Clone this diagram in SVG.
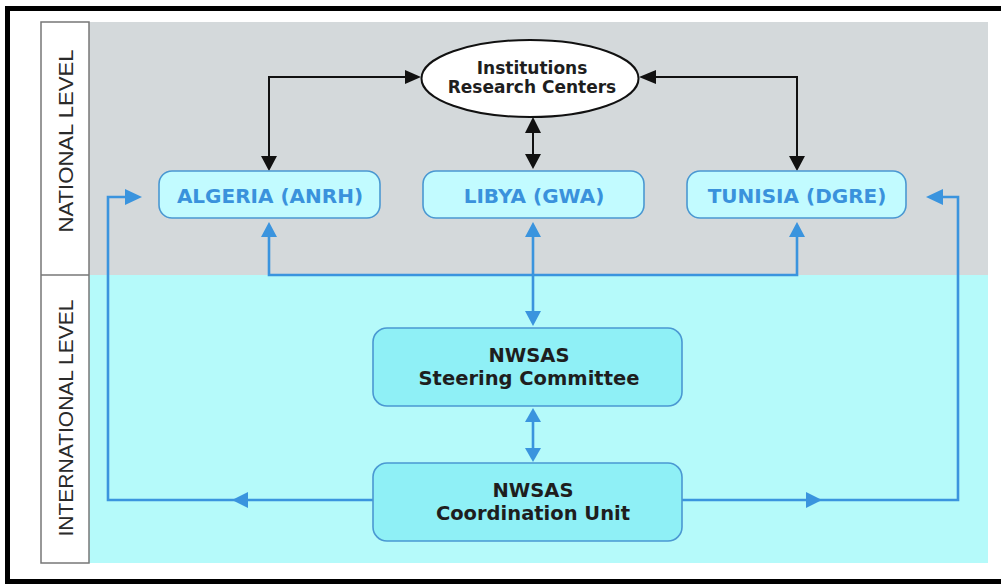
<svg xmlns="http://www.w3.org/2000/svg" width="1001" height="584" viewBox="0 0 1001 584">
  <style>
    .lbl { font-family: "Liberation Sans", Arial, sans-serif; font-size: 21px; fill: #2a2a2a; text-anchor: middle; }
    .nat { fill: #c2fbff; stroke: #4a98d2; stroke-width: 1.6; }
    .intl { fill: #8ff0f6; stroke: #4a98d2; stroke-width: 1.6; }
    .ctry { font-family: "DejaVu Sans", Verdana, sans-serif; font-weight: bold; font-size: 20px; fill: #3a92dc; text-anchor: middle; }
    .name { font-family: "DejaVu Sans", Verdana, sans-serif; font-weight: bold; fill: #1e1e1e; text-anchor: middle; }
    .blk { fill: none; stroke: #111; stroke-width: 2; }
    .blu { fill: none; stroke: #3a94de; stroke-width: 2.6; }
    .bh { fill: #111; }
    .uh { fill: #3a94de; }
  </style>

  <rect x="0" y="0" width="1001" height="584" fill="#ffffff"/>
  <!-- outer frame (right side runs off the canvas) -->
  <rect x="7.5" y="8.5" width="1000" height="573" fill="none" stroke="#000" stroke-width="5"/>

  <!-- level bands -->
  <rect x="89" y="22" width="899" height="253" fill="#d4d9db"/>
  <rect x="89" y="275" width="899" height="288" fill="#b5fafa"/>

  <!-- level label column -->
  <g id="level-labels">
    <rect x="41" y="22" width="48" height="541" fill="#ffffff" stroke="#777" stroke-width="1.5"/>
    <line x1="41" y1="275" x2="89" y2="275" stroke="#777" stroke-width="1.5"/>
    <text class="lbl" transform="translate(73 141) rotate(-90)" textLength="183" lengthAdjust="spacingAndGlyphs">NATIONAL LEVEL</text>
    <text class="lbl" transform="translate(73 418) rotate(-90)" textLength="237" lengthAdjust="spacingAndGlyphs">INTERNATIONAL LEVEL</text>
  </g>

  <!-- connectors -->
  <g id="connectors">
    <!-- black links to institutions -->
    <polyline class="blk" points="269,157 269,77 406,77"/>
    <polygon class="bh" points="421,77 405,70 405,84"/>
    <polygon class="bh" points="269,171 261,156 277,156"/>
    <polyline class="blk" points="797,157 797,77 656,77"/>
    <polygon class="bh" points="639,77 656,70 656,84"/>
    <polygon class="bh" points="797,171 789,156 805,156"/>
    <line class="blk" x1="533" y1="130" x2="533" y2="156"/>
    <polygon class="bh" points="533,117 525,133 541,133"/>
    <polygon class="bh" points="533,169 525,154 541,154"/>

    <!-- blue links between countries and steering committee -->
    <polyline class="blu" points="269,236 269,275 797,275 797,236"/>
    <polygon class="uh" points="269,222 261,237 277,237"/>
    <polygon class="uh" points="797,222 789,237 805,237"/>
    <line class="blu" x1="533" y1="236" x2="533" y2="312"/>
    <polygon class="uh" points="533,222 525,237 541,237"/>
    <polygon class="uh" points="533,326 525,311 541,311"/>

    <!-- steering committee to coordination unit -->
    <line class="blu" x1="533" y1="420" x2="533" y2="450"/>
    <polygon class="uh" points="533,408 525,422 541,422"/>
    <polygon class="uh" points="533,462 525,448 541,448"/>

    <!-- coordination unit loops back to the outer countries -->
    <polyline class="blu" points="373,500 108,500 108,197 126,197"/>
    <polygon class="uh" points="232,500 248,492 248,508"/>
    <polygon class="uh" points="142,197 125,189 125,205"/>
    <polyline class="blu" points="682,500 958,500 958,197 941,197"/>
    <polygon class="uh" points="822,500 806,492 806,508"/>
    <polygon class="uh" points="926,197 943,189 943,205"/>
  </g>

  <!-- nodes -->
  <g id="institutions">
    <ellipse cx="530" cy="78.5" rx="108.5" ry="38.5" fill="#ffffff" stroke="#111" stroke-width="2"/>
    <text class="name" font-size="17" x="532" y="74">Institutions</text>
    <text class="name" font-size="17" x="532" y="93">Research Centers</text>
  </g>

  <g id="algeria">
    <rect class="nat" x="159" y="171" width="221" height="47" rx="13"/>
    <text class="ctry" x="270" y="203">ALGERIA (ANRH)</text>
  </g>

  <g id="libya">
    <rect class="nat" x="423" y="171" width="221" height="47" rx="13"/>
    <text class="ctry" x="534" y="203">LIBYA (GWA)</text>
  </g>

  <g id="tunisia">
    <rect class="nat" x="687" y="171" width="219" height="47" rx="13"/>
    <text class="ctry" x="797" y="203">TUNISIA (DGRE)</text>
  </g>

  <g id="steering-committee">
    <rect class="intl" x="373" y="328" width="309" height="78" rx="14"/>
    <text class="name" font-size="19.5" x="529" y="362">NWSAS</text>
    <text class="name" font-size="19.5" x="529" y="385">Steering Committee</text>
  </g>

  <g id="coordination-unit">
    <rect class="intl" x="373" y="463" width="309" height="78" rx="14"/>
    <text class="name" font-size="19.5" x="533" y="497">NWSAS</text>
    <text class="name" font-size="19.5" x="533" y="520">Coordination Unit</text>
  </g>
</svg>
